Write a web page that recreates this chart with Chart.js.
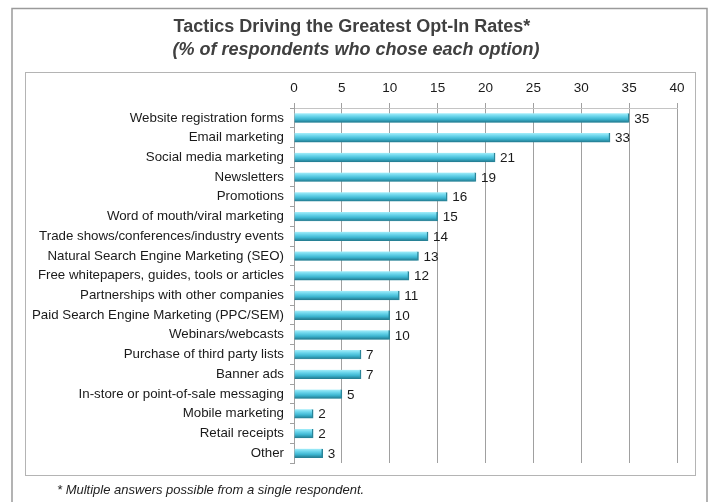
<!DOCTYPE html>
<html>
<head>
<meta charset="utf-8">
<script src="https://cdn.jsdelivr.net/npm/chart.js@4/dist/chart.umd.min.js"></script>
<style>
  html, body { margin: 0; padding: 0; background: #fff; }
  #wrap { width: 711px; height: 502px; position: relative; }
</style>
</head>
<body>
<div id="wrap"><canvas id="myChart" width="711" height="502"></canvas></div>
<script>
// Survey answers (% of respondents)
const tactics = [
  'Website registration forms',
  'Email marketing',
  'Social media marketing',
  'Newsletters',
  'Promotions',
  'Word of mouth/viral marketing',
  'Trade shows/conferences/industry events',
  'Natural Search Engine Marketing (SEO)',
  'Free whitepapers, guides, tools or articles',
  'Partnerships with other companies',
  'Paid Search Engine Marketing (PPC/SEM)',
  'Webinars/webcasts',
  'Purchase of third party lists',
  'Banner ads',
  'In-store or point-of-sale messaging',
  'Mobile marketing',
  'Retail receipts',
  'Other'
];
const percents = [35, 33, 21, 19, 16, 15, 14, 13, 12, 11, 10, 10, 7, 7, 5, 2, 2, 3];

const titleText = 'Tactics Driving the Greatest Opt-In Rates*';
const subtitleText = '(% of respondents who chose each option)';
const footnoteText = '* Multiple answers possible from a single respondent.';

const FONT = '"Liberation Sans", Arial, sans-serif';

// cylinder-like shading for each bar
function barFill(context) {
  const chart = context.chart;
  const y = chart.scales.y;
  if (!chart.chartArea || !y || context.dataIndex === undefined) return '#4bc0d9';
  const cy = y.getPixelForValue(context.dataIndex);
  const g = chart.ctx.createLinearGradient(0, cy - 4.5, 0, cy + 4.5);
  g.addColorStop(0, '#a6eefa');
  g.addColorStop(0.3, '#6cd6ec');
  g.addColorStop(0.65, '#3cb5d0');
  g.addColorStop(1, '#22798e');
  return g;
}

// frames, titles and footnote
const decorations = {
  id: 'decorations',
  beforeDraw(chart) {
    const ctx = chart.ctx;
    ctx.save();
    ctx.fillStyle = '#fff';
    ctx.fillRect(0, 0, chart.width, chart.height);
    // outer frame
    ctx.strokeStyle = '#9a9a9a';
    ctx.lineWidth = 1.5;
    ctx.beginPath();
    ctx.moveTo(12, 510);
    ctx.lineTo(12, 8.5);
    ctx.lineTo(707, 8.5);
    ctx.lineTo(707, 510);
    ctx.stroke();
    // inner frame
    ctx.strokeStyle = '#b4b4b4';
    ctx.lineWidth = 1;
    ctx.strokeRect(25.5, 72.5, 670, 403);
    // titles
    ctx.fillStyle = '#404040';
    ctx.textAlign = 'center';
    ctx.textBaseline = 'middle';
    ctx.font = 'bold 18px ' + FONT;
    ctx.fillText(titleText, 352, 27);
    ctx.font = 'italic bold 18px ' + FONT;
    ctx.fillText(subtitleText, 356, 50);
    // footnote
    ctx.fillStyle = '#222';
    ctx.textAlign = 'left';
    ctx.font = 'italic 13px ' + FONT;
    ctx.fillText(footnoteText, 57, 490);
    ctx.restore();
  },
  afterDatasetsDraw(chart) {
    const ctx = chart.ctx;
    const meta = chart.getDatasetMeta(0);
    ctx.save();
    ctx.fillStyle = '#1a1a1a';
    ctx.font = '13.5px ' + FONT;
    ctx.textAlign = 'left';
    ctx.textBaseline = 'middle';
    meta.data.forEach((bar, i) => {
      ctx.fillText(String(percents[i]), bar.x + 5, bar.y + 1);
    });
    ctx.restore();
  }
};

const ctx = document.getElementById('myChart');

new Chart(ctx, {
  type: 'bar',
  data: {
    labels: tactics,
    datasets: [{
      data: percents,
      backgroundColor: barFill,
      borderColor: '#2a8599',
      borderWidth: { right: 1.5, top: 0, bottom: 0.5, left: 0 },
      borderSkipped: false,
      barThickness: 9
    }]
  },
  options: {
    indexAxis: 'y',
    responsive: false,
    animation: false,
    devicePixelRatio: 1,
    layout: { padding: { top: 80, left: 25, right: 34, bottom: 39 } },
    plugins: {
      legend: { display: false },
      tooltip: { enabled: false },
      title: { display: false }
    },
    scales: {
      x: {
        position: 'top',
        min: 0,
        max: 40,
        ticks: { stepSize: 5, color: '#1a1a1a', font: { family: FONT, size: 13.5 }, padding: 7 },
        grid: { color: '#a0a0a0', lineWidth: 1, tickLength: 5 },
        border: { color: '#c4c4c4' },
        afterFit(s) { s.height = 28; }
      },
      y: {
        ticks: { color: '#1a1a1a', font: { family: FONT, size: 13.3 }, padding: 6, autoSkip: false },
        grid: { offset: true, drawOnChartArea: false, color: '#a0a0a0', tickLength: 4 },
        border: { color: '#a0a0a0' },
        afterFit(s) { s.width = 269; }
      }
    }
  },
  plugins: [decorations]
});
</script>
</body>
</html>
